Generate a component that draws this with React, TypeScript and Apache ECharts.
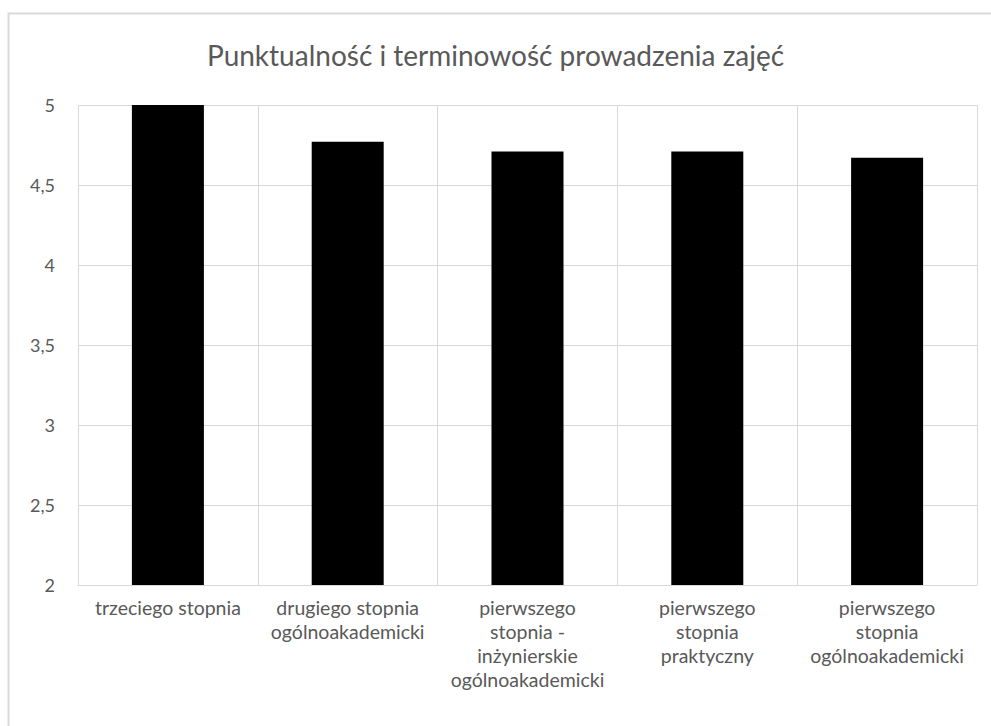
import React, { useEffect, useRef } from "react";
import * as echarts from "echarts";

const titleText = "Punktualność i terminowość prowadzenia zajęć";
const categories = [
  "trzeciego stopnia",
  "drugiego stopnia\nogólnoakademicki",
  "pierwszego\nstopnia -\ninżynierskie\nogólnoakademicki",
  "pierwszego\nstopnia\npraktyczny",
  "pierwszego\nstopnia\nogólnoakademicki",
];
const values = [5, 4.77, 4.71, 4.71, 4.67];
const yMin = 2;
const yMax = 5;
const yStep = 0.5;

export default function App() {
  const ref = useRef<HTMLDivElement>(null);
  useEffect(() => {
    if (!ref.current) return;
    const chart = echarts.init(ref.current, undefined, { renderer: "svg" });
    const font = "Lato, 'Open Sans', sans-serif";
    chart.setOption({
      animation: false,
      backgroundColor: "#ffffff",
      title: {
        text: titleText,
        left: "center",
        top: 36,
        textStyle: {
          fontFamily: font,
          fontSize: 28,
          fontWeight: "normal",
          color: "#595959",
        },
      },
      graphic: [
        {
          type: "rect",
          shape: { x: 8.5, y: 13.5, width: 1000, height: 800 },
          style: { fill: "none", stroke: "#d9d9d9", lineWidth: 2 },
          silent: true,
          z: -1,
        },
      ],
      grid: { left: 78, right: 14, top: 105, bottom: 141, containLabel: false },
      xAxis: {
        type: "category",
        data: categories,
        boundaryGap: true,
        axisLine: { show: true, lineStyle: { color: "#d9d9d9", width: 1 } },
        axisTick: { show: false },
        splitLine: { show: true, lineStyle: { color: "#d9d9d9", width: 1 } },
        axisLabel: {
          interval: 0,
          margin: 10,
          fontFamily: font,
          fontSize: 19.5,
          lineHeight: 24,
          color: "#595959",
          align: "center",
          verticalAlign: "top",
        },
      },
      yAxis: {
        type: "value",
        min: yMin,
        max: yMax,
        interval: yStep,
        axisLine: { show: false },
        axisTick: { show: false },
        splitLine: { show: true, lineStyle: { color: "#d9d9d9", width: 1 } },
        axisLabel: {
          margin: 23,
          fontFamily: font,
          fontSize: 18,
          color: "#595959",
          formatter: (v: number) => String(v).replace(".", ","),
        },
      },
      series: [
        {
          type: "bar",
          data: values,
          barWidth: 72,
          itemStyle: { color: "#000000" },
        },
      ],
    });
    return () => chart.dispose();
  }, []);
  return (
    <div
      ref={ref}
      style={{ position: "fixed", left: 0, top: 0, width: 991, height: 726 }}
    />
  );
}
